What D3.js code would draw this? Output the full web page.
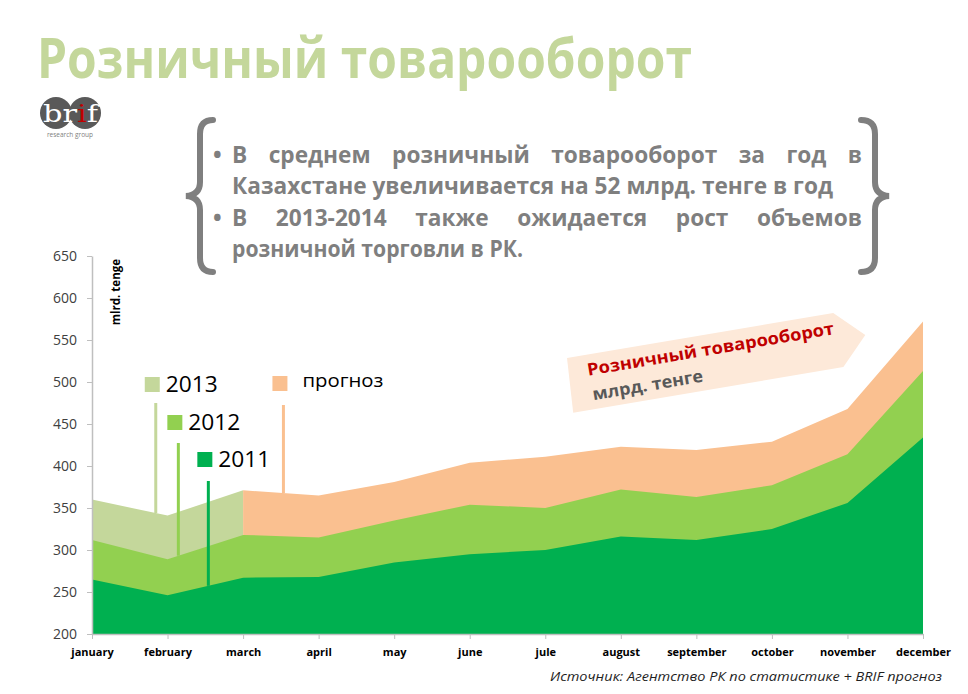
<!DOCTYPE html>
<html>
<head>
<meta charset="utf-8">
<script src="https://cdn.jsdelivr.net/npm/d3@7"></script>
<style>
  html, body { margin: 0; padding: 0; background: #ffffff; }
  svg { display: block; }
</style>
</head>
<body>
<script>
// ---------------- data ----------------
const months = ["january","february","march","april","may","june","jule","august","september","october","november","december"];
const v2011 = [265, 246, 267, 268, 285, 295, 300, 316, 312, 325, 356, 434];
const v2012 = [312, 289, 318, 315, 335, 354, 350, 372, 363, 377, 414, 513];
const v2013 = [360, 341, 371, null, null, null, null, null, null, null, null, null];
const forecast = [null, null, 371, 365, 381, 404, 411, 423, 419, 429, 468, 572];
const yTicks = [200, 250, 300, 350, 400, 450, 500, 550, 600, 650];
const legendNames = ["2013", "2012", "2011", "прогноз"];
// pointer anchors (fractional month index where each legend pointer touches its area)
const pointerAt = [0.844, 1.143, 1.54, 2.534];

const titleText = "Розничный товарооборот";
const bulletLines = [
  "В среднем розничный товарооборот за год в",
  "Казахстане увеличивается на 52 млрд. тенге в год",
  "В 2013-2014 также ожидается рост объемов",
  "розничной торговли в РК."
];
const bannerTitle = "Розничный товарооборот";
const bannerUnit = "млрд. тенге";
const yAxisTitle = "mlrd. tenge";
const sourceText = "Источник: Агентство РК по статистике + BRIF прогноз";

// ---------------- setup ----------------
const W = 968, H = 694;
const FONT = "'Open Sans', 'Noto Sans', sans-serif";
const colors = { c2011: "#00b050", c2012: "#92d050", c2013: "#c4d79b", fc: "#fac090" };

const svg = d3.select("body").append("svg").attr("width", W).attr("height", H)
  .style("background", "#fff");

const x = d3.scalePoint().domain(months).range([92, 923]);
const y = d3.scaleLinear().domain([200, 650]).range([634, 256]);

function xAt(t) { const i = Math.floor(t); return x(months[i]) + (t - i) * x.step(); }
function valAt(arr, t) { const i = Math.floor(t); return arr[i] + (t - i) * (arr[i + 1] - arr[i]); }

// ---------------- title ----------------
svg.append("text").attr("x", 37).attr("y", 78)
  .attr("font-family", FONT).attr("font-weight", 700).attr("font-size", 55)
  .attr("fill", "#c4d79b").attr("textLength", 655).attr("lengthAdjust", "spacingAndGlyphs")
  .text(titleText);

// ---------------- logo ----------------
const logo = svg.append("g");
logo.append("circle").attr("cx", 56).attr("cy", 113).attr("r", 16).attr("fill", "#595959");
logo.append("circle").attr("cx", 85).attr("cy", 113).attr("r", 16).attr("fill", "#595959");
const lt = logo.append("text").attr("x", 43).attr("y", 122)
  .attr("font-family", "'DejaVu Serif', 'Liberation Serif', serif").attr("font-size", 24)
  .attr("textLength", 55).attr("lengthAdjust", "spacingAndGlyphs");
lt.append("tspan").attr("fill", "#ffffff").text("br");
lt.append("tspan").attr("fill", "#c00000").text("i");
lt.append("tspan").attr("fill", "#ffffff").text("f");
logo.append("text").attr("x", 70).attr("y", 137).attr("text-anchor", "middle")
  .attr("font-family", FONT).attr("font-size", 6.5).attr("fill", "#808080").text("research group");

// ---------------- braces ----------------
const braceStroke = "#7f7f7f";
svg.append("path")
  .attr("d", "M 213 120 Q 200 120 200 134 L 200 182 Q 200 195 186 196 Q 200 197 200 210 L 200 258 Q 200 272 213 272")
  .attr("fill", "none").attr("stroke", braceStroke).attr("stroke-width", 6).attr("stroke-linecap", "round");
svg.append("path")
  .attr("d", "M 861 120 Q 875 120 875 134 L 875 182 Q 875 195 889 196 Q 875 197 875 210 L 875 258 Q 875 272 861 272")
  .attr("fill", "none").attr("stroke", braceStroke).attr("stroke-width", 6).attr("stroke-linecap", "round");

// ---------------- bullet text ----------------
const textColor = "#7f7f7f";
const tFont = 23;
const tx0 = 232, tx1 = 862;
const baselines = [163, 194, 226, 257];
const tg = svg.append("g").attr("font-family", FONT).attr("font-weight", 700)
  .attr("font-size", tFont).attr("fill", textColor);
function measure(str) {
  const t = tg.append("text").attr("x", -1000).attr("y", -1000).text(str);
  const w = t.node().getComputedTextLength(); t.remove(); return w;
}
const nat2 = measure(bulletLines[1]);
const f = 601 / nat2;
bulletLines.forEach((line, li) => {
  const yb = baselines[li];
  if (li === 0 || li === 2) {
    tg.append("text").attr("x", 213).attr("y", yb).text("•");
    const words = line.split(" ");
    const ws = words.map(w => measure(w) * f);
    const gap = (tx1 - tx0 - d3.sum(ws)) / (words.length - 1);
    let cx = tx0;
    words.forEach((w, i) => {
      tg.append("text").attr("x", cx).attr("y", yb)
        .attr("textLength", ws[i]).attr("lengthAdjust", "spacingAndGlyphs").text(w);
      cx += ws[i] + gap;
    });
  } else {
    const width = li === 1 ? 601 : 291;
    tg.append("text").attr("x", tx0).attr("y", yb)
      .attr("textLength", width).attr("lengthAdjust", "spacingAndGlyphs").text(line);
  }
});

// ---------------- areas ----------------
const areaGen = arr => d3.area()
  .defined(d => d != null)
  .x((d, i) => x(months[i]))
  .y0(y(200))
  .y1(d => y(d))(arr);

svg.append("path").attr("d", areaGen(v2013)).attr("fill", colors.c2013);
svg.append("path").attr("d", areaGen(forecast)).attr("fill", colors.fc);
svg.append("path").attr("d", areaGen(v2012)).attr("fill", colors.c2012);
svg.append("path").attr("d", areaGen(v2011)).attr("fill", colors.c2011);

// ---------------- axes ----------------
const axisColor = "#bfbfbf";
const yAxis = svg.append("g").attr("transform", `translate(${x(months[0])},0)`)
  .call(d3.axisLeft(y).tickValues(yTicks).tickSize(5).tickSizeOuter(0).tickPadding(10));
yAxis.select(".domain").attr("stroke", axisColor).attr("stroke-width", 1.5);
yAxis.selectAll(".tick line").attr("stroke", axisColor);
yAxis.selectAll(".tick text").attr("font-family", FONT).attr("font-size", 14).attr("fill", "#404040");

const xAxis = svg.append("g").attr("transform", `translate(0,${y(200)})`)
  .call(d3.axisBottom(x).tickSize(5).tickSizeOuter(0).tickPadding(9));
xAxis.select(".domain").attr("stroke", axisColor).attr("stroke-width", 1.5);
xAxis.selectAll(".tick line").attr("stroke", axisColor);
xAxis.selectAll(".tick text").attr("font-family", FONT).attr("font-size", 11)
  .attr("font-weight", 700).attr("fill", "#000");

// y-axis title
svg.append("text").attr("transform", "translate(120,259) rotate(-90)")
  .attr("text-anchor", "end").attr("font-family", FONT).attr("font-weight", 700)
  .attr("font-size", 11.5).attr("fill", "#000").text(yAxisTitle);

// ---------------- legend with pointers ----------------
const legSeries = [v2013, v2012, v2011, forecast];
const legColors = [colors.c2013, colors.c2012, colors.c2011, colors.fc];
const legTop = [377, 415, 452, 376];   // square top
const lineTop = [403, 443, 481, 405];
const legLen = [52, 52, 52, 81];
legendNames.forEach((name, i) => {
  const px = xAt(pointerAt[i]);
  const pv = valAt(legSeries[i], pointerAt[i]);
  svg.append("line").attr("x1", px).attr("x2", px)
    .attr("y1", lineTop[i]).attr("y2", y(pv))
    .attr("stroke", legColors[i]).attr("stroke-width", 3);
  svg.append("rect").attr("x", px - 11).attr("y", legTop[i]).attr("width", 15).attr("height", 15)
    .attr("fill", legColors[i]);
  const isFc = i === 3;
  svg.append("text").attr("x", isFc ? px + 19 : px + 10).attr("y", legTop[i] + (isFc ? 11 : 15))
    .attr("font-family", FONT).attr("font-size", isFc ? 19 : 22).attr("fill", "#000")
    .attr("textLength", legLen[i]).attr("lengthAdjust", "spacingAndGlyphs").text(name);
});

// ---------------- banner arrow ----------------
const banner = svg.append("g").attr("transform", "translate(567,358) rotate(-9.6)");
banner.append("polygon").attr("points", "0,0 270,0 298,27 271,55 -3,55").attr("fill", "#fde9d9");
banner.append("text").attr("x", 18).attr("y", 21).attr("font-family", FONT).attr("font-weight", 700)
  .attr("font-size", 17).attr("fill", "#c00000").attr("textLength", 250)
  .attr("lengthAdjust", "spacingAndGlyphs").text(bannerTitle);
banner.append("text").attr("x", 19).attr("y", 46).attr("font-family", FONT).attr("font-weight", 700)
  .attr("font-size", 17).attr("fill", "#595959").attr("textLength", 112)
  .attr("lengthAdjust", "spacingAndGlyphs").text(bannerUnit);

// ---------------- source ----------------
svg.append("text").attr("x", 550).attr("y", 681).attr("font-family", FONT).attr("font-style", "italic")
  .attr("font-size", 13).attr("fill", "#1f1f1f").attr("textLength", 392)
  .attr("lengthAdjust", "spacingAndGlyphs").text(sourceText);
</script>
</body>
</html>
